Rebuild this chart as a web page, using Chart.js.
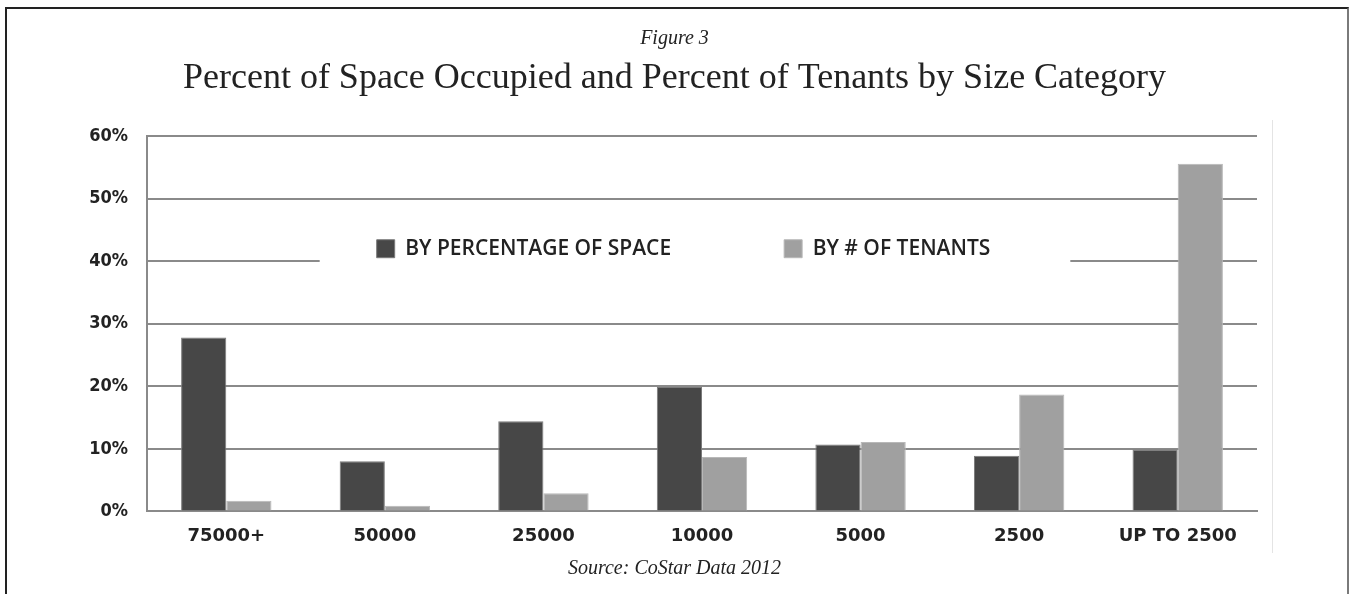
<!DOCTYPE html>
<html><head><meta charset="utf-8">
<script src="https://cdn.jsdelivr.net/npm/chart.js@4.4.1/dist/chart.umd.min.js"></script>
<style>
html,body{margin:0;padding:0;background:#fff;overflow:hidden}
#wrap{position:relative;width:1349px;height:594px}
#frame{position:absolute;left:5px;top:7px;width:1340px;height:600px;border:2px solid #222;border-bottom:none;border-right-color:#7a7a7a;pointer-events:none}
#edge{position:absolute;left:1272px;top:120px;width:1px;height:433px;background:#e4e4e4}
canvas{position:absolute;left:0;top:0}
</style></head><body>
<div id="wrap"><canvas id="c" width="1349" height="594"></canvas><div id="edge"></div><div id="frame"></div></div>
<script>
const categories = ['75000+', '50000', '25000', '10000', '5000', '2500', 'UP TO 2500'];
const spaceShare = [27.8, 8.0, 14.4, 19.9, 10.7, 8.9, 9.9];
const tenantShare = [1.7, 0.9, 2.9, 8.7, 11.1, 18.7, 55.6];
const seriesNames = ['BY PERCENTAGE OF SPACE', 'BY # OF TENANTS'];
const yTicks = [0, 10, 20, 30, 40, 50, 60];
const figureLabel = 'Figure 3';
const titleText = 'Percent of Space Occupied and Percent of Tenants by Size Category';
const sourceText = 'Source: CoStar Data 2012';

const SERIF = "'Liberation Serif', 'DejaVu Serif', serif";
const NARROW = "'Liberation Sans Narrow', 'DejaVu Sans Condensed', sans-serif";
const LEG_FONT = 21, LEG_BOX = 18, LEG_PAD = 113, LEGEND_LEVEL = 42;
const GRID = '#8a8a8a';

const legendPlacer = {
  id: 'legendPlacer',
  afterLayout(chart) {
    const lg = chart.legend;
    if (!lg) return;
    const yc = chart.scales.y.getPixelForValue(LEGEND_LEVEL);
    const itemH = Math.max(LEG_FONT, LEG_BOX);
    lg.top = yc - LEG_PAD - itemH / 2;
    lg.bottom = yc + itemH / 2 + 6;
    lg.height = lg.bottom - lg.top;
    lg.left += 9;
    lg.right += 9;
  },
  beforeDatasetsDraw(chart) {
    const lg = chart.legend;
    if (!lg || !lg.legendHitBoxes || !lg.legendHitBoxes.length) return;
    const hb = lg.legendHitBoxes;
    const last = hb[hb.length - 1];
    const x0 = hb[0].left - 57;
    const x1 = last.left + last.width + 80;
    const y40 = chart.scales.y.getPixelForValue(40);
    const ctx = chart.ctx;
    ctx.save();
    ctx.fillStyle = '#ffffff';
    ctx.fillRect(x0, y40 - 2.5, x1 - x0, 5);
    ctx.restore();
  }
};

const sourceNote = {
  id: 'sourceNote',
  afterDraw(chart) {
    const ctx = chart.ctx;
    ctx.save();
    ctx.font = 'italic 20px ' + SERIF;
    ctx.fillStyle = '#222';
    ctx.textAlign = 'center';
    ctx.textBaseline = 'middle';
    ctx.fillText(sourceText, chart.width / 2, chart.chartArea.bottom + 57);
    ctx.restore();
  }
};

new Chart(document.getElementById('c'), {
  type: 'bar',
  data: {
    labels: categories,
    datasets: [
      { label: seriesNames[0], data: spaceShare, backgroundColor: '#474747', borderColor: '#7a7a7a', borderWidth: 1 },
      { label: seriesNames[1], data: tenantShare, backgroundColor: '#a0a0a0', borderColor: '#b8b8b8', borderWidth: 1 }
    ]
  },
  options: {
    responsive: false,
    animation: false,
    devicePixelRatio: 1,
    layout: { padding: { top: 0, bottom: 33, left: 0, right: 0 } },
    datasets: { bar: { categoryPercentage: 0.57, barPercentage: 1.0 } },
    plugins: {
      title: { display: true, text: figureLabel, color: '#222',
        font: { family: SERIF, style: 'italic', size: 20, weight: 'normal' },
        padding: { top: 27, bottom: 0 } },
      subtitle: { display: true, text: titleText, color: '#222',
        font: { family: SERIF, size: 36, weight: 'normal' },
        padding: { top: 6, bottom: 0 } },
      legend: { display: true, position: 'top', maxHeight: 36,
        labels: { boxWidth: LEG_BOX, boxHeight: LEG_BOX, padding: LEG_PAD, color: '#222',
          font: { family: "'Open Sans', sans-serif", weight: '600', size: LEG_FONT } } },
      tooltip: { enabled: false }
    },
    scales: {
      x: {
        grid: { display: false, drawTicks: false },
        border: { display: true, color: GRID, width: 2 },
        ticks: { color: '#222', padding: 14, maxRotation: 0, autoSkip: false,
          font: { family: "'DejaVu Sans', sans-serif", weight: 'bold', size: 18 } }
      },
      y: {
        min: 0, max: 60,
        afterBuildTicks: s => { s.ticks = yTicks.map(v => ({ value: v })); },
        afterFit: s => { s.width = 147; },
        grid: { color: GRID, lineWidth: 2, drawTicks: false },
        border: { display: true, color: GRID, width: 2 },
        ticks: { color: '#222', padding: 19, callback: v => v + '%',
          font: { family: NARROW, weight: 'bold', size: 18 } }
      },
      y2: {
        position: 'right',
        grid: { display: false, drawTicks: false },
        border: { display: false },
        ticks: { display: false },
        afterFit: s => { s.width = 92; }
      }
    }
  },
  plugins: [legendPlacer, sourceNote]
});
</script>
</body></html>
